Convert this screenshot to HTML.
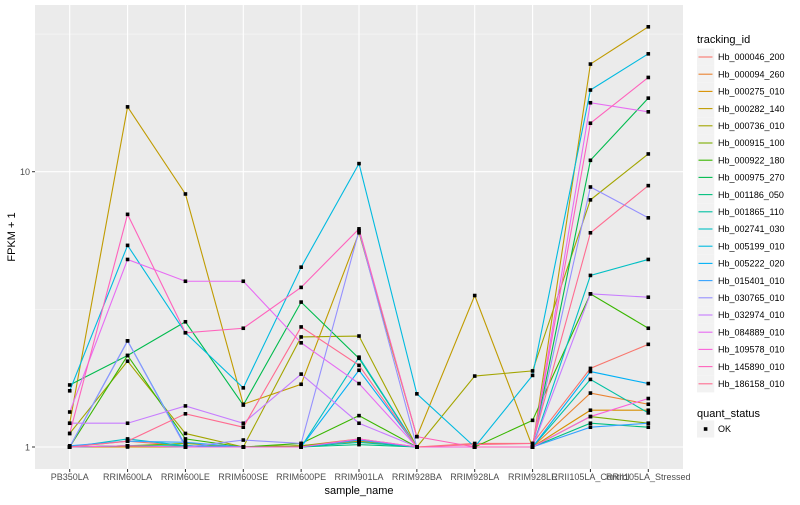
<!DOCTYPE html>
<html><head><meta charset="utf-8"><style>
body{margin:0;background:#fff;font-family:"Liberation Sans",sans-serif}
svg text{font-family:"Liberation Sans",sans-serif}
</style></head><body>
<svg id="chart" width="800" height="500">
<rect x="35" y="5" width="648" height="464" fill="#EBEBEB"/>
<g id="grid"></g><g id="lines"></g><g id="pts"></g><g id="axes"></g><g id="legend"></g>
</svg>
<script>
const samples=["PB350LA","RRIM600LA","RRIM600LE","RRIM600SE","RRIM600PE","RRIM901LA","RRIM928BA","RRIM928LA","RRIM928LE","RRII105LA_Control","RRII105LA_Stressed"];
const ids=["Hb_000046_200","Hb_000094_260","Hb_000275_010","Hb_000282_140","Hb_000736_010","Hb_000915_100","Hb_000922_180","Hb_000975_270","Hb_001186_050","Hb_001865_110","Hb_002741_030","Hb_005199_010","Hb_005222_020","Hb_015401_010","Hb_030765_010","Hb_032974_010","Hb_084889_010","Hb_109578_010","Hb_145890_010","Hb_186158_010"];
const colors=["#F8766D","#EA8331","#D89000","#C09B00","#A3A500","#7CAE00","#39B600","#00BB4E","#00BF7D","#00C1A3","#00BFC4","#00BAE0","#00B0F6","#35A2FF","#9590FF","#C77CFF","#E76BF3","#FA62DB","#FF62BC","#FF6C91"];
const s01=[1.00,1.05,1.01,1.0,1.01,1.05,1.0,1.03,1.03,1.93,2.36];
const s02=[1.0,1.01,1.0,1.0,1.01,1.07,1.0,1.0,1.0,1.57,1.43];
const s03=[1.0,1.0,1.0,1.0,1.01,1.05,1.0,1.0,1.0,1.36,1.36];
const s04=[1.22,17.2,8.3,1.43,1.69,6.0,1.09,3.55,1.0,24.6,33.6];
const s05=[1.12,2.05,1.12,1.0,2.51,2.53,1.0,1.81,1.89,7.9,11.6];
const s06=[1.0,1.01,1.03,1.0,1.01,1.06,1.0,1.0,1.0,1.29,1.22];
const s07=[1.0,2.15,1.07,1.0,1.03,1.30,1.0,1.0,1.25,3.6,2.7];
const s08=[1.68,2.15,2.85,1.42,3.36,2.1,1.0,1.0,1.0,11.0,18.5];
const s09=[1.0,1.01,1.0,1.0,1.0,1.02,1.0,1.0,1.0,1.22,1.18];
const s10=[1.0,1.01,1.01,1.0,1.0,1.04,1.0,1.0,1.0,1.76,1.33];
const s11=[1.0,1.07,1.01,1.0,1.0,2.12,1.0,1.0,1.0,4.2,4.8];
const s12=[1.6,5.4,2.6,1.64,4.5,10.7,1.56,1.0,1.82,19.8,26.8];
const s13=[1.0,2.43,1.01,1.0,1.0,1.9,1.0,1.0,1.0,1.88,1.70];
const s14=[1.01,1.05,1.04,1.0,1.0,1.06,1.0,1.0,1.0,1.18,1.22];
const s15=[1.0,2.43,1.0,1.06,1.03,6.1,1.0,1.0,1.0,8.8,6.8];
const s16=[1.22,1.22,1.41,1.22,1.84,1.22,1.0,1.0,1.0,3.6,3.5];
const s17=[1.34,4.8,4.0,4.0,2.39,1.7,1.0,1.0,1.0,17.8,16.5];
const s18=[1.0,1.01,1.0,1.0,1.0,1.07,1.0,1.0,1.0,1.29,1.5];
const s19=[1.12,7.0,2.6,2.7,3.8,6.2,1.09,1.0,1.0,15.0,22.0];
const s20=[1.0,1.05,1.32,1.18,2.73,1.98,1.0,1.02,1.03,6.0,8.9];
const series=[s01,s02,s03,s04,s05,s06,s07,s08,s09,s10,s11,s12,s13,s14,s15,s16,s17,s18,s19,s20];
const yTicks=[1,10];
const NS="http://www.w3.org/2000/svg";
const L=35,R=683,T=5,B=469;
const step=(R-L)/(samples.length-1+1.2);
const xs=i=>L+step*(0.6+i);
const ys=v=>447-Math.log10(v)*275.3;
function mk(tag,attrs,parent){const e=document.createElementNS(NS,tag);for(const k in attrs)e.setAttribute(k,attrs[k]);parent.appendChild(e);return e;}
const grid=document.getElementById('grid');
[0.5,1.5].forEach(m=>{const y=ys(Math.pow(10,m));if(y>T&&y<B){const l=mk('line',{x1:L,x2:R,y1:y,y2:y,stroke:'#F7F7F7','stroke-width':0.6},grid);

}});
yTicks.forEach(v=>{const l=mk('line',{x1:L,x2:R,y1:ys(v),y2:ys(v),stroke:'#fff','stroke-width':1.1},grid);

});
samples.forEach((s,i)=>{const l=mk('line',{x1:xs(i),x2:xs(i),y1:T,y2:B,stroke:'#fff','stroke-width':1.1},grid);

});
const lg=document.getElementById('lines'),pg=document.getElementById('pts');
series.forEach((d,k)=>{const p=mk('polyline',{points:d.map((v,i)=>xs(i)+','+ys(v)).join(' '),fill:'none',stroke:colors[k],'stroke-width':1.1},lg);

});
series.forEach((d,k)=>d.forEach((v,i)=>{const c=mk('rect',{x:xs(i)-1.8,y:ys(v)-1.8,width:3.6,height:3.6,fill:'#000'},pg);

}));
const ax=document.getElementById('axes');
yTicks.forEach(v=>{const t=mk('text',{x:30,y:ys(v)+3.5,'text-anchor':'end','font-size':9,fill:'#4D4D4D'},ax);t.textContent=v;


const tk=mk('line',{x1:32,x2:35,y1:ys(v),y2:ys(v),stroke:'#333','stroke-width':1},ax);

});
samples.forEach((s,i)=>{const t=mk('text',{x:xs(i),y:480,'text-anchor':'middle','font-size':9,fill:'#4D4D4D'},ax);t.textContent=s;


const tk=mk('line',{x1:xs(i),x2:xs(i),y1:469,y2:472,stroke:'#333','stroke-width':1},ax);

});
let t=mk('text',{x:359,y:494,'text-anchor':'middle','font-size':11,fill:'#000'},ax);t.textContent='sample_name';


t=mk('text',{x:0,y:0,'text-anchor':'middle','font-size':11,fill:'#000',transform:'translate(15,237) rotate(-90)'},ax);t.textContent='FPKM + 1';


const lgd=document.getElementById('legend');
t=mk('text',{x:697,y:43,'font-size':11,fill:'#000'},lgd);t.textContent='tracking_id';


ids.forEach((id,k)=>{const cy=57+k*17.2;
const b=mk('rect',{x:697,y:cy-8.6,width:17.2,height:17.2,fill:'#F2F2F2'},lgd);


const l=mk('line',{x1:698.5,x2:712.5,y1:cy,y2:cy,stroke:colors[k],'stroke-width':1.1},lgd);


const tx=mk('text',{x:718,y:cy+3.2,'font-size':9,fill:'#000'},lgd);tx.textContent=id;

});
t=mk('text',{x:697,y:417,'font-size':11,fill:'#000'},lgd);t.textContent='quant_status';


let b=mk('rect',{x:697,y:420.4,width:17.2,height:17.2,fill:'#F2F2F2'},lgd);


b=mk('rect',{x:703.8,y:427.2,width:3.6,height:3.6,fill:'#000'},lgd);


t=mk('text',{x:718,y:432.2,'font-size':9,fill:'#000'},lgd);t.textContent='OK';


</script>
</body></html>
